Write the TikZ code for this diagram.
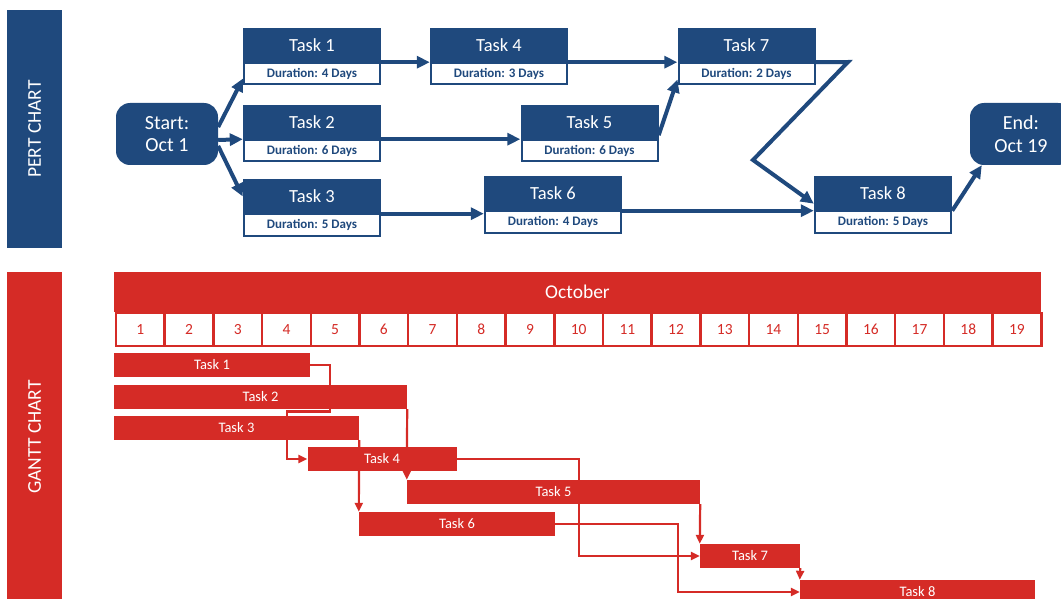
\documentclass[tikz,border=0pt]{standalone}
\usepackage{fontspec}
\setmainfont{Carlito}
\usepackage{tikz}
\usetikzlibrary{arrows.meta}
\usetikzlibrary{positioning}
\definecolor{pertblue}{RGB}{31,73,125}
\definecolor{ganttred}{RGB}{213,43,38}
\pgfdeclarelayer{bg}
\pgfsetlayers{bg,main}
\tikzset{side_bar/.style={rectangle, rotate=90, text=white, inner sep=0pt, minimum height=55pt, font=\fontsize{19.5}{22}\selectfont},
	pert_arrow/.style={pertblue, line width=4pt, -{Triangle[length=13pt,width=12pt]}},
	gantt_link/.style={ganttred, line width=2.2pt, -{Triangle[length=9pt,width=8pt]}}
}
\tikzstyle{pert_title} = [rectangle, fill=pertblue, text=white, minimum width=138pt, minimum height=34pt, inner sep=0pt, font=\fontsize{18.5}{20}\selectfont]
\tikzstyle{pert_dur} = [rectangle, draw=pertblue, line width=2pt, fill=white, text=pertblue, minimum width=136pt, minimum height=21pt, inner sep=0pt, font=\bfseries\fontsize{13}{15}\selectfont]
\tikzstyle{pert_end} = [rectangle, rounded corners=14pt, fill=pertblue, text=white, minimum width=102pt, minimum height=62pt, align=center, font=\fontsize{20}{22.5}\selectfont]
\tikzstyle{month_bar} = [rectangle, fill=ganttred, text=white, minimum width=927pt, minimum height=40pt, inner sep=0pt, font=\fontsize{19.5}{22}\selectfont]
\tikzstyle{day_cell} = [rectangle, draw=ganttred, line width=2.5pt, fill=white, text=ganttred, minimum width=48.7pt, minimum height=33pt, inner sep=0pt, node distance=48.7pt, font=\fontsize{15.5}{17}\selectfont]
\tikzstyle{gantt_bar} = [rectangle, fill=ganttred, text=white, minimum height=24pt, inner sep=0pt, font=\fontsize{14.5}{16}\selectfont]

\begin{document}
\begin{tikzpicture}[x=1pt, y=1pt, node distance=28.5pt]
	\useasboundingbox (0,0) rectangle (1061,-599);
	\clip (0,0) rectangle (1061,-599);
	
	% side labels
	\node[side_bar, fill=pertblue, minimum width=238pt] (pert) at (34.5,-129) {PERT CHART};
	\node[side_bar, fill=ganttred, minimum width=330pt] (gantt) at (34.5,-437) {GANTT CHART};
	
	% pert chart
	\node[pert_end] (start) at (167,-134) {Start:\\Oct 1};
	\node[pert_end] (end) at (1021,-134) {End:\\Oct 19};
	\node[pert_title] (t1) at (312,-45) {Task 1};
	\node[pert_dur, below of=t1] (t1d) {Duration: 4 Days};
	\node[pert_title] (t2) at (312,-122) {Task 2};
	\node[pert_dur, below of=t2] (t2d) {Duration: 6 Days};
	\node[pert_title] (t3) at (312,-196.5) {Task 3};
	\node[pert_dur, below of=t3] (t3d) {Duration: 5 Days};
	\node[pert_title] (t4) at (499,-45) {Task 4};
	\node[pert_dur, below of=t4] (t4d) {Duration: 3 Days};
	\node[pert_title] (t5) at (589.5,-122) {Task 5};
	\node[pert_dur, below of=t5] (t5d) {Duration: 6 Days};
	\node[pert_title] (t6) at (553,-193.5) {Task 6};
	\node[pert_dur, below of=t6] (t6d) {Duration: 4 Days};
	\node[pert_title] (t7) at (746.5,-45) {Task 7};
	\node[pert_dur, below of=t7] (t7d) {Duration: 2 Days};
	\node[pert_title] (t8) at (883,-193.5) {Task 8};
	\node[pert_dur, below of=t8] (t8d) {Duration: 5 Days};
	\coordinate (kink1) at (848,-62);
	\coordinate (kink2) at (753,-160);
	
	% draw arrows
	\draw[pert_arrow] ([yshift=7pt]start.east) -- ([yshift=-5pt]t1d.west);
	\draw[pert_arrow] ([yshift=-6pt]start.east) -- (t2.south west);
	\draw[pert_arrow] ([yshift=-12pt]start.east) -- (t3.west);
	\draw[pert_arrow] (t1.south east) -- (t4.south west);
	\draw[pert_arrow] (t4.south east) -- (t7.south west);
	\draw[pert_arrow] (t2.south east) -- (t5.south west);
	\draw[pert_arrow] ([yshift=4pt]t5.south east) -- ([yshift=-6pt]t7d.west);
	\draw[pert_arrow] (t7.south east) -- (kink1) -- (kink2) -- ([yshift=7pt]t8.south west);
	\draw[pert_arrow] (t3.south east) -- (t3.south east -| t6.west);
	\draw[pert_arrow] (t6.south east) -- (t8.south west);
	\draw[pert_arrow] (t8.south east) -- ([xshift=12pt]end.south west);
	
	% gantt chart
	\node[month_bar] (oct) at (577.5,-292) {October};
	\node[day_cell] (d1) at (140.35,-329.5) {1};
	\node[day_cell, right of=d1] (d2) {2};
	\node[day_cell, right of=d2] (d3) {3};
	\node[day_cell, right of=d3] (d4) {4};
	\node[day_cell, right of=d4] (d5) {5};
	\node[day_cell, right of=d5] (d6) {6};
	\node[day_cell, right of=d6] (d7) {7};
	\node[day_cell, right of=d7] (d8) {8};
	\node[day_cell, right of=d8] (d9) {9};
	\node[day_cell, right of=d9] (d10) {10};
	\node[day_cell, right of=d10] (d11) {11};
	\node[day_cell, right of=d11] (d12) {12};
	\node[day_cell, right of=d12] (d13) {13};
	\node[day_cell, right of=d13] (d14) {14};
	\node[day_cell, right of=d14] (d15) {15};
	\node[day_cell, right of=d15] (d16) {16};
	\node[day_cell, right of=d16] (d17) {17};
	\node[day_cell, right of=d17] (d18) {18};
	\node[day_cell, right of=d18] (d19) {19};
	
	\node[gantt_bar, minimum width=196pt] (g1) at (212,-365) {Task 1};
	\node[gantt_bar, minimum width=293pt] (g2) at (260.5,-397) {Task 2};
	\node[gantt_bar, minimum width=245pt] (g3) at (236.5,-428) {Task 3};
	\node[gantt_bar, minimum width=149pt] (g4) at (382,-459) {Task 4};
	\node[gantt_bar, minimum width=293pt] (g5) at (553.5,-492) {Task 5};
	\node[gantt_bar, minimum width=196pt] (g6) at (457,-524) {Task 6};
	\node[gantt_bar, minimum width=100pt] (g7) at (750,-556) {Task 7};
	\node[gantt_bar, minimum width=235pt] (g8) at (917.5,-592) {Task 8};
	
	% links behind the bars
	\begin{pgfonlayer}{bg}
		\draw[gantt_link] (g1.east) -- ++(20,0) -- ++(0,-46.5) -- ++(-43,0) |- (g4.west);
		\draw[gantt_link] (g2.south east) -- (g5.north west);
		\draw[gantt_link] (g3.south east) -- (g6.north west);
		\draw[gantt_link] (g4.east) -- ++(122,0) |- (g7.west);
		\draw[gantt_link] (g5.south east) -- (g7.north west);
		\draw[gantt_link] (g6.east) -- ++(123,0) |- (g8.west);
		\draw[gantt_link] (g7.south east) -- (g8.north west);
	\end{pgfonlayer}
\end{tikzpicture}
\end{document}
